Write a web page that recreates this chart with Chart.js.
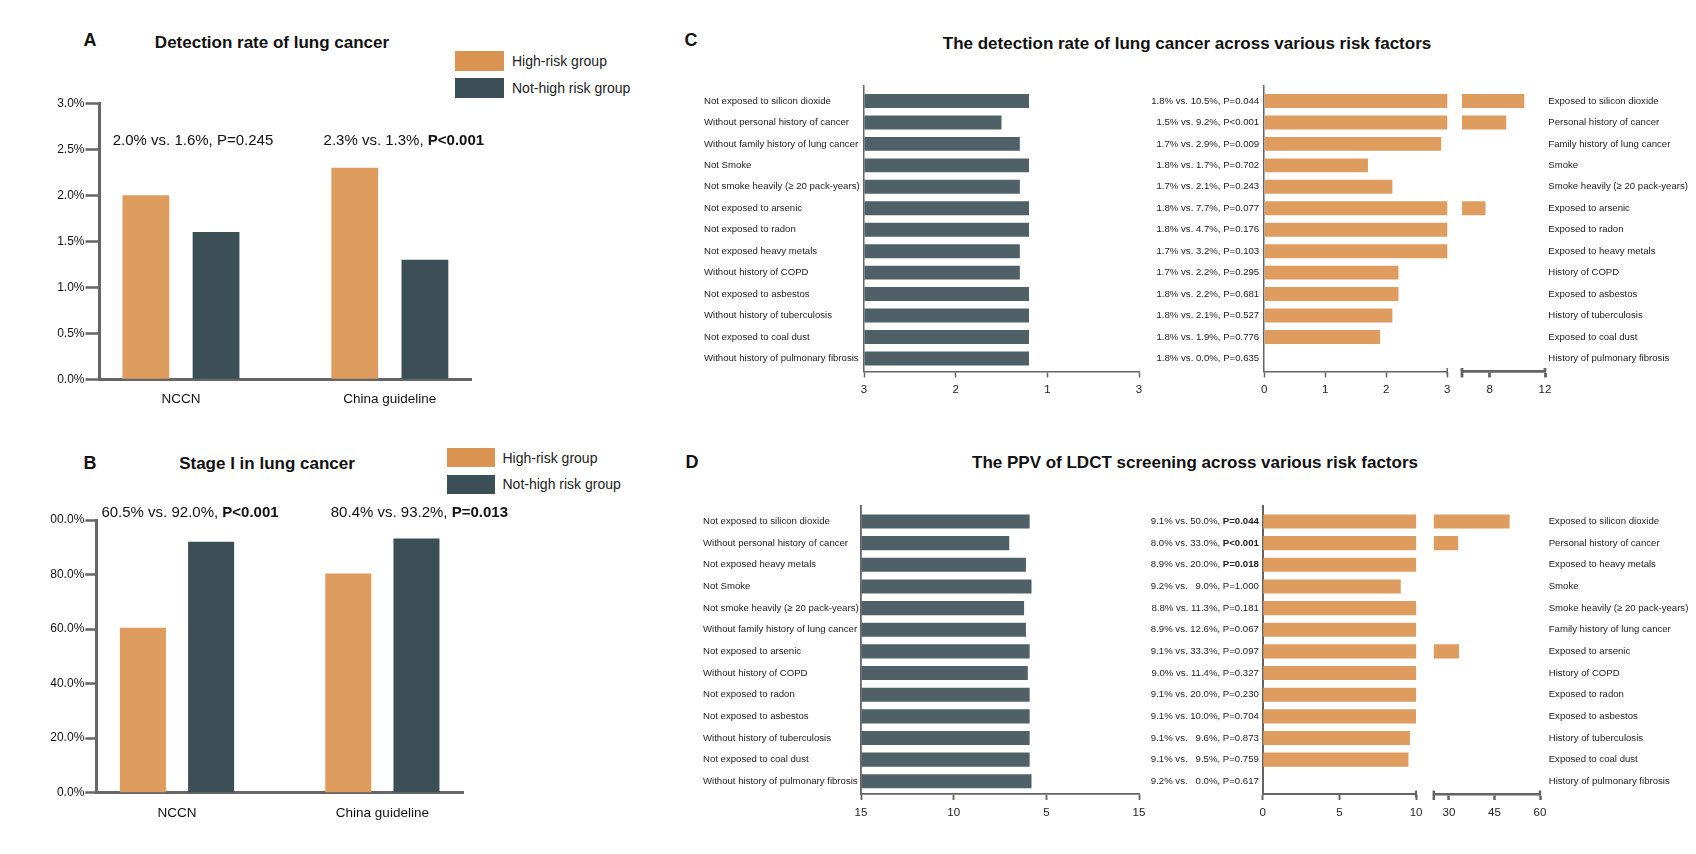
<!DOCTYPE html>
<html>
<head>
<meta charset="utf-8">
<script src="https://cdn.jsdelivr.net/npm/chart.js@4.4.1/dist/chart.umd.min.js"></script>
<style>
  html, body { margin: 0; padding: 0; background: #fff; }
  body { width: 1696px; height: 854px; position: relative; overflow: hidden;
         font-family: "Liberation Sans", Arial, Helvetica, sans-serif; color: #111; }
  canvas { position: absolute; }
  .t { position: absolute; white-space: nowrap; line-height: 1; transform: translate(-50%, -50%); }
  .letter { font-weight: bold; font-size: 18px; }
  .title { font-weight: bold; font-size: 17px; }
  .leg { position: absolute; white-space: nowrap; line-height: 1; font-size: 14px; color: #222; transform: translateY(-50%); }
  .sw { position: absolute; }
</style>
</head>
<body>

<div class="t letter" style="left:90px; top:40px;">A</div>
<div class="t title" style="left:272px; top:41.5px;">Detection rate of lung cancer</div>
<div class="sw" style="left:455px; top:51px; width:49px; height:20px; background:#DB9352;"></div>
<div class="sw" style="left:455px; top:78px; width:49px; height:19.5px; background:#3D4F56;"></div>
<div class="leg" style="left:512px; top:61px;">High-risk group</div>
<div class="leg" style="left:512px; top:88px;">Not-high risk group</div>

<div class="t letter" style="left:90px; top:463px;">B</div>
<div class="t title" style="left:267px; top:462.5px;">Stage I in lung cancer</div>
<div class="sw" style="left:447px; top:448px; width:48px; height:19px; background:#DB9352;"></div>
<div class="sw" style="left:447px; top:474.5px; width:48px; height:19px; background:#3D4F56;"></div>
<div class="leg" style="left:502.5px; top:457.5px;">High-risk group</div>
<div class="leg" style="left:502.5px; top:484px;">Not-high risk group</div>

<div class="t letter" style="left:691px; top:40px;">C</div>
<div class="t title" style="left:1187px; top:42.5px;">The detection rate of lung cancer across various risk factors</div>

<div class="t letter" style="left:692px; top:462px;">D</div>
<div class="t title" style="left:1195px; top:462px;">The PPV of LDCT screening across various risk factors</div>

<canvas id="chartA"></canvas>
<canvas id="chartB"></canvas>
<canvas id="leftC"></canvas>
<canvas id="seg1C"></canvas>
<canvas id="seg2C"></canvas>
<canvas id="leftD"></canvas>
<canvas id="seg1D"></canvas>
<canvas id="seg2D"></canvas>

<script>
// ---------- data ----------
const groups = ['NCCN', 'China guideline'];

// A: detection rate (%)
const rateHigh = [2.0, 2.3];
const rateNotHigh = [1.6, 1.3];
const rateTicks = [0, 0.5, 1, 1.5, 2, 2.5, 3];
const rateNotes = ['2.0% vs. 1.6%, P=0.245', '2.3% vs. 1.3%, P<0.001'];
const rateBold = [false, true];

// B: stage I (%)
const stageHigh = [60.5, 80.4];
const stageNotHigh = [92.0, 93.2];
const stageTicks = [0, 20, 40, 60, 80, 100];
const stageNotes = ['60.5% vs. 92.0%, P<0.001', '80.4% vs. 93.2%, P=0.013'];
const stageBold = [true, true];

// C: detection rate across risk factors
const notNamesC = ['Not exposed to silicon dioxide', 'Without personal history of cancer', 'Without family history of lung cancer',
  'Not Smoke', 'Not smoke heavily (\u2265 20 pack-years)', 'Not exposed to arsenic', 'Not exposed to radon',
  'Not exposed heavy metals', 'Without history of COPD', 'Not exposed to asbestos', 'Without history of tuberculosis',
  'Not exposed to coal dust', 'Without history of pulmonary fibrosis'];
const riskNamesC = ['Exposed to silicon dioxide', 'Personal history of cancer', 'Family history of lung cancer',
  'Smoke', 'Smoke heavily (\u2265 20 pack-years)', 'Exposed to arsenic', 'Exposed to radon',
  'Exposed to heavy metals', 'History of COPD', 'Exposed to asbestos', 'History of tuberculosis',
  'Exposed to coal dust', 'History of pulmonary fibrosis'];
const notRateC = [1.8, 1.5, 1.7, 1.8, 1.7, 1.8, 1.8, 1.7, 1.7, 1.8, 1.8, 1.8, 1.8];
const riskRateC = [10.5, 9.2, 2.9, 1.7, 2.1, 7.7, 4.7, 3.2, 2.2, 2.2, 2.1, 1.9, 0.0];
const statsC = ['1.8% vs. 10.5%, P=0.044', '1.5% vs. 9.2%, P<0.001', '1.7% vs. 2.9%, P=0.009',
  '1.8% vs. 1.7%, P=0.702', '1.7% vs. 2.1%, P=0.243', '1.8% vs. 7.7%, P=0.077', '1.8% vs. 4.7%, P=0.176',
  '1.7% vs. 3.2%, P=0.103', '1.7% vs. 2.2%, P=0.295', '1.8% vs. 2.2%, P=0.681', '1.8% vs. 2.1%, P=0.527',
  '1.8% vs. 1.9%, P=0.776', '1.8% vs. 0.0%, P=0.635'];
const boldC = [false, false, false, false, false, false, false, false, false, false, false, false, false];
const leftTickValsC = [0, 1, 2, 3];
const leftTickLabelsC = ['3', '2', '1', '3'];
const seg1TicksC = [0, 1, 2, 3];
const seg2TicksC = [8, 12];

// D: PPV of LDCT across risk factors
const notNamesD = ['Not exposed to silicon dioxide', 'Without personal history of cancer', 'Not exposed heavy metals',
  'Not Smoke', 'Not smoke heavily (\u2265 20 pack-years)', 'Without family history of lung cancer', 'Not exposed to arsenic',
  'Without history of COPD', 'Not exposed to radon', 'Not exposed to asbestos', 'Without history of tuberculosis',
  'Not exposed to coal dust', 'Without history of pulmonary fibrosis'];
const riskNamesD = ['Exposed to silicon dioxide', 'Personal history of cancer', 'Exposed to heavy metals',
  'Smoke', 'Smoke heavily (\u2265 20 pack-years)', 'Family history of lung cancer', 'Exposed to arsenic',
  'History of COPD', 'Exposed to radon', 'Exposed to asbestos', 'History of tuberculosis',
  'Exposed to coal dust', 'History of pulmonary fibrosis'];
const notPpvD = [9.1, 8.0, 8.9, 9.2, 8.8, 8.9, 9.1, 9.0, 9.1, 9.1, 9.1, 9.1, 9.2];
const riskPpvD = [50.0, 33.0, 20.0, 9.0, 11.3, 12.6, 33.3, 11.4, 20.0, 10.0, 9.6, 9.5, 0.0];
const statsD = ['9.1% vs. 50.0%, P=0.044', '8.0% vs. 33.0%, P<0.001', '8.9% vs. 20.0%, P=0.018',
  '9.2% vs.   9.0%, P=1.000', '8.8% vs. 11.3%, P=0.181', '8.9% vs. 12.6%, P=0.067', '9.1% vs. 33.3%, P=0.097',
  '9.0% vs. 11.4%, P=0.327', '9.1% vs. 20.0%, P=0.230', '9.1% vs. 10.0%, P=0.704', '9.1% vs.   9.6%, P=0.873',
  '9.1% vs.   9.5%, P=0.759', '9.2% vs.   0.0%, P=0.617'];
const boldD = [true, true, true, false, false, false, false, false, false, false, false, false, false];
const leftTickValsD = [0, 5, 10, 15];
const leftTickLabelsD = ['15', '10', '5', '15'];
const seg1TicksD = [0, 5, 10];
const seg2TicksD = [30, 45, 60];

// ---------- styles ----------
const ORANGE = '#DF9C5F';
const DARK = '#3D4F56';
const SLATE = '#4F6067';
const AXIS = '#666666';
const AXIS2 = '#646464';
const FONT = '"Liberation Sans", Arial, Helvetica, sans-serif';

Chart.defaults.font.family = FONT;
Chart.defaults.color = '#111';
Chart.defaults.animation = false;
Chart.defaults.plugins.legend.display = false;
Chart.defaults.plugins.tooltip.enabled = false;

// canvas placed so that the chart area lands on the given page rectangle
function place(id, area, ax) {
  const el = document.getElementById(id);
  const left = Math.round(area.l - ax.yl - ax.ml);
  const top = Math.round(area.t - ax.mt);
  const right = Math.round(area.r + ax.yr + ax.mr);
  const bottom = Math.round(area.b + ax.xb + ax.mb);
  el.width = right - left;
  el.height = bottom - top;
  el.style.left = left + 'px';
  el.style.top = top + 'px';
  return {
    el,
    padding: {
      left: area.l - ax.yl - left,
      right: right - area.r - ax.yr,
      top: area.t - top,
      bottom: bottom - area.b - ax.xb
    }
  };
}

function splitP(text, bold) {
  if (!bold) return [text, ''];
  const k = text.lastIndexOf('P');
  return [text.slice(0, k), text.slice(k)];
}

// normal text followed by a bold part
function drawMixed(ctx, x, y, normal, bold, size, align) {
  ctx.font = size + 'px ' + FONT;
  const w1 = ctx.measureText(normal).width;
  ctx.font = 'bold ' + size + 'px ' + FONT;
  const w2 = bold ? ctx.measureText(bold).width : 0;
  let start = x;
  if (align === 'right') start = x - w1 - w2;
  if (align === 'center') start = x - (w1 + w2) / 2;
  ctx.textAlign = 'left';
  ctx.textBaseline = 'middle';
  ctx.font = size + 'px ' + FONT;
  ctx.fillText(normal, start, y);
  if (bold) {
    ctx.font = 'bold ' + size + 'px ' + FONT;
    ctx.fillText(bold, start + w1, y);
  }
}

// p-value notes above the groups (A, B)
const notesPlugin = {
  id: 'notes',
  afterDatasetsDraw(chart, args, opts) {
    const { ctx, scales: { x, y } } = chart;
    ctx.save();
    ctx.fillStyle = '#111';
    opts.texts.forEach((t, i) => {
      const [a, b] = splitP(t, opts.bold[i]);
      drawMixed(ctx, x.getPixelForValue(i) + opts.dx[i], y.getPixelForValue(opts.y), a, b, 15, 'center');
    });
    ctx.restore();
  }
};

// comparison column left of the right-hand bars (C, D)
const statsPlugin = {
  id: 'stats',
  afterDraw(chart, args, opts) {
    if (!opts.texts) return;
    const { ctx, chartArea, scales: { y } } = chart;
    ctx.save();
    ctx.fillStyle = '#222';
    opts.texts.forEach((t, i) => {
      const [a, b] = splitP(t, opts.bold[i]);
      drawMixed(ctx, chartArea.left - opts.gap, y.getPixelForValue(i), a, b, 9.6, 'right');
    });
    ctx.restore();
  }
};

// end caps of the broken axis
const capsPlugin = {
  id: 'caps',
  afterDraw(chart, args, opts) {
    if (!opts.list) return;
    const { ctx, chartArea, scales: { x } } = chart;
    ctx.save();
    ctx.strokeStyle = AXIS2;
    ctx.lineWidth = opts.width;
    opts.list.forEach(c => {
      const px = x.getPixelForValue(c.v);
      ctx.beginPath();
      ctx.moveTo(px, chartArea.bottom - c.up);
      ctx.lineTo(px, chartArea.bottom + c.down);
      ctx.stroke();
    });
    ctx.restore();
  }
};

// ---------- A & B: grouped bars ----------
function groupChart(id, area, ax, high, notHigh, yMax, yTicks, notes, cfg) {
  const c = place(id, area, ax);
  const fixed = (vals) => (s) => { s.ticks = vals.map(v => ({ value: v })); };
  new Chart(c.el, {
    type: 'bar',
    data: {
      datasets: [
        { data: high.map((v, i) => ({ x: i, y: v })), backgroundColor: ORANGE,
          categoryPercentage: cfg.cat, barPercentage: cfg.bar },
        { data: notHigh.map((v, i) => ({ x: i, y: v })), backgroundColor: DARK,
          categoryPercentage: cfg.cat, barPercentage: cfg.bar }
      ]
    },
    options: {
      responsive: false,
      layout: { padding: c.padding },
      plugins: { notes: notes },
      scales: {
        x: {
          type: 'linear', min: cfg.xMin, max: cfg.xMax, offset: false,
          afterBuildTicks: fixed(groups.map((g, i) => i)),
          afterFit: s => { s.height = ax.xb; },
          grid: { display: false, drawTicks: false, offset: false },
          border: { color: AXIS, width: 3 },
          ticks: { callback: (v, i) => groups[i], font: { size: 13.5 }, color: '#111', padding: 12, maxRotation: 0, autoSkip: false }
        },
        y: {
          min: 0, max: yMax,
          afterBuildTicks: fixed(yTicks),
          afterFit: s => { s.width = ax.yl; },
          grid: { display: true, drawOnChartArea: false, drawTicks: true, tickLength: cfg.tick, tickWidth: 2.5, tickColor: AXIS },
          border: { color: AXIS, width: 3 },
          ticks: { callback: v => v.toFixed(1) + '%', font: { size: 12 }, color: '#111', padding: 1, autoSkip: false }
        }
      }
    },
    plugins: [notesPlugin]
  });
}

groupChart('chartA', { l: 99.5, r: 471.5, t: 103.3, b: 379.3 },
  { yl: 50, yr: 0, xb: 36, ml: 6, mr: 40, mt: 50, mb: 6 },
  rateHigh, rateNotHigh, 3, rateTicks,
  { texts: rateNotes, bold: rateBold, dx: [12, 14], y: 2.594 },
  { xMin: -0.39, xMax: 1.391, cat: 0.672, bar: 0.667, tick: 14 });

groupChart('chartB', { l: 96.3, r: 463.7, t: 520, b: 792.7 },
  { yl: 46, yr: 0, xb: 36, ml: 0, mr: 70, mt: 28, mb: 6 },
  stageHigh, stageNotHigh, 100, stageTicks,
  { texts: stageNotes, bold: stageBold, dx: [13, 37], y: 102.8 },
  { xMin: -0.393, xMax: 1.396, cat: 0.664, bar: 0.675, tick: 11 });

// ---------- C & D: mirrored bars with a broken right axis ----------
function rowAxis(range, extra) {
  return Object.assign({
    type: 'linear', reverse: true, min: range[0], max: range[1], offset: false,
    afterBuildTicks: s => { s.ticks = notNamesC.map((n, i) => ({ value: i })); },
    grid: { display: false, drawTicks: false, offset: false }
  }, extra);
}

function leftChart(id, area, yl, range, names, values, xMax, tickVals, tickLabels, lw) {
  const c = place(id, area, { yl: yl, yr: 0, xb: 30, ml: 0, mr: 14, mt: 20, mb: 6 });
  new Chart(c.el, {
    type: 'bar',
    data: {
      datasets: [{ data: values.map((v, i) => ({ x: v, y: i })), backgroundColor: SLATE,
        categoryPercentage: 1, barPercentage: 0.65, clip: 0 }]
    },
    options: {
      indexAxis: 'y',
      responsive: false,
      layout: { padding: c.padding },
      scales: {
        x: {
          type: 'linear', min: 0, max: xMax,
          afterBuildTicks: s => { s.ticks = tickVals.map(v => ({ value: v })); },
          afterFit: s => { s.height = 30; },
          grid: { display: true, drawOnChartArea: false, drawTicks: true, tickLength: 6, tickWidth: lw, tickColor: AXIS2 },
          border: { color: AXIS2, width: lw },
          ticks: { callback: (v, i) => tickLabels[i], font: { size: 11.5 }, color: '#222', padding: 5.5, maxRotation: 0, autoSkip: false }
        },
        y: rowAxis(range, {
          afterFit: s => { s.width = yl; },
          border: { color: AXIS2, width: lw },
          ticks: { callback: (v, i) => names[i], crossAlign: 'far', font: { size: 9.6 }, color: '#222', padding: 0, autoSkip: false }
        })
      }
    }
  });
}

function segChart(id, area, ax, range, values, xMin, xMax, tickVals, lw, extra) {
  const c = place(id, area, ax);
  const yAxis = extra.names
    ? rowAxis(range, {
        position: 'right',
        afterFit: s => { s.width = ax.yr; },
        border: { display: false },
        ticks: { callback: (v, i) => extra.names[i], font: { size: 9.6 }, color: '#222', padding: extra.gap, autoSkip: false }
      })
    : rowAxis(range, {
        afterFit: s => { s.width = 0; },
        border: { color: AXIS2, width: lw },
        ticks: { display: false }
      });
  new Chart(c.el, {
    type: 'bar',
    data: {
      datasets: [{ data: values.map((v, i) => ({ x: v, y: i })), backgroundColor: ORANGE,
        categoryPercentage: 1, barPercentage: 0.65, clip: 0 }]
    },
    options: {
      indexAxis: 'y',
      responsive: false,
      layout: { padding: c.padding },
      plugins: {
        stats: { texts: extra.stats, bold: extra.bold, gap: extra.statGap },
        caps: { list: extra.caps, width: lw }
      },
      scales: {
        x: {
          type: 'linear', min: xMin, max: xMax,
          afterBuildTicks: s => { s.ticks = tickVals.map(v => ({ value: v })); },
          afterFit: s => { s.height = ax.xb; },
          grid: { display: true, drawOnChartArea: false, drawTicks: true, tickLength: 6, tickWidth: lw, tickColor: AXIS2 },
          border: { color: AXIS2, width: lw },
          ticks: { callback: v => String(v), font: { size: 11.5 }, color: '#222', padding: 5.5, maxRotation: 0, autoSkip: false }
        },
        y: yAxis
      }
    },
    plugins: [statsPlugin, capsPlugin]
  });
}

// panel C
const rowsC = [-0.699, 12.61];
leftChart('leftC', { l: 864, r: 1139, t: 86, b: 371.5 }, 160, rowsC, notNamesC, notRateC, 3, leftTickValsC, leftTickLabelsC, 1.5);
segChart('seg1C', { l: 1264.2, r: 1450, t: 86, b: 371.5 }, { yl: 0, yr: 0, xb: 30, ml: 118, mr: 6, mt: 20, mb: 6 },
  rowsC, riskRateC, 0, 3, seg1TicksC, 1.5,
  { stats: statsC, bold: boldC, statGap: 5, caps: [{ v: 3, up: 3.5, down: 3.5 }] });
segChart('seg2C', { l: 1462, r: 1545, t: 86, b: 371.5 }, { yl: 0, yr: 148, xb: 30, ml: 6, mr: 3, mt: 20, mb: 6 },
  rowsC, riskRateC, 6, 12, seg2TicksC, 2.8,
  { names: riskNamesC, gap: 3.3, caps: [{ v: 6, up: 3.5, down: 6 }, { v: 12, up: 3.5, down: 0 }] });

// panel D
const rowsD = [-0.716, 12.587];
leftChart('leftD', { l: 861, r: 1139, t: 506, b: 794 }, 158, rowsD, notNamesD, notPpvD, 15, leftTickValsD, leftTickLabelsD, 1.8);
segChart('seg1D', { l: 1262.8, r: 1422, t: 506, b: 794 }, { yl: 0, yr: 0, xb: 30, ml: 118, mr: 6, mt: 20, mb: 6 },
  rowsD, riskPpvD, 0, 10, seg1TicksD, 2,
  { stats: statsD, bold: boldD, statGap: 4, caps: [{ v: 10, up: 3.5, down: 3.5 }] });
segChart('seg2D', { l: 1433.8, r: 1540, t: 506, b: 794 }, { yl: 0, yr: 150, xb: 30, ml: 6, mr: 6, mt: 20, mb: 6 },
  rowsD, riskPpvD, 25, 60, seg2TicksD, 2.5,
  { names: riskNamesD, gap: 8.7, caps: [{ v: 25, up: 3.5, down: 6 }, { v: 60, up: 3.5, down: 0 }] });
</script>
</body>
</html>
